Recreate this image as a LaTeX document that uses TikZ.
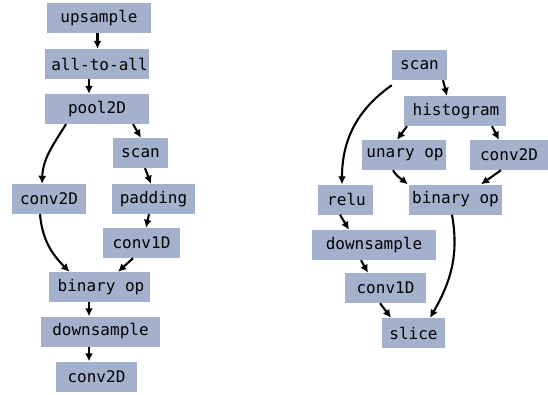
\documentclass[tikz,border=0pt]{standalone}
\usepackage{fontspec}
\setmonofont{DejaVu Sans Mono}
\usetikzlibrary{arrows.meta}
\definecolor{boxfill}{RGB}{164,177,204}
\tikzset{
  box/.style={rectangle, fill=boxfill, minimum height=30pt, inner sep=0pt,
    font=\ttfamily\fontsize{16}{18}\selectfont, text=black},
  edge/.style={line width=2.1pt, -{Latex[length=8pt,width=8pt]}}
}
\newcommand{\lft}[2]{#2\hspace{#1pt}}
\newcommand{\rgt}[2]{\hspace{#1pt}#2}
\begin{document}
\begin{tikzpicture}[x=1pt,y=-1pt]
\useasboundingbox (0,0) rectangle (548,394);
% left graph
\node[box, minimum width=104pt] (ups) at (99,18) {\lft{9}{upsample}};
\node[box, minimum width=104pt] (ata) at (97,64) {\rgt{5}{all-to-all}};
\node[box, minimum width=104pt] (pool) at (97,109) {\lft{6}{pool2D}};
\node[box, minimum width=55pt] (scanl) at (140.5,153) {\lft{4}{scan}};
\node[box, minimum width=74pt] (convl) at (49,199) {\lft{9}{conv2D}};
\node[box, minimum width=83pt] (pad) at (153.5,199) {\lft{4}{padding}};
\node[box, minimum width=77pt] (c1l) at (141.5,243) {\lft{5}{conv1D}};
\node[box, minimum width=101pt] (binl) at (99.5,287) {\rgt{3}{binary op}};
\node[box, minimum width=119pt] (dsl) at (100.5,331.5) {\lft{13}{downsample}};
\node[box, minimum width=81pt] (c2b) at (96.5,376.5) {\lft{8}{conv2D}};
% right graph
\node[box, minimum width=55pt] (scanr) at (419.5,65) {\lft{2}{scan}};
\node[box, minimum width=102pt] (hist) at (455,111) {\rgt{2}{histogram}};
\node[box, minimum width=84pt] (un) at (404,155) {\rgt{2}{unary op}};
\node[box, minimum width=78pt] (c2r) at (509,155) {\lft{9}{conv2D}};
\node[box, minimum width=55pt] (relu) at (345.5,199.5) {\rgt{2}{relu}};
\node[box, minimum width=93pt] (binr) at (455.5,199.5) {binary op};
\node[box, minimum width=124pt] (dsr) at (374,245) {\lft{14}{downsample}};
\node[box, minimum width=81pt] (c1r) at (385.5,288) {conv1D};
\node[box, minimum width=63pt] (slice) at (413.5,333) {slice};
% left edges
\draw[edge] ([xshift=-1.5pt]ups.south) -- ([xshift=0.5pt]ata.north);
\draw[edge] ([xshift=-8pt]ata.south) -- ([xshift=-8pt]pool.north);
\draw[edge] ([xshift=-31pt]pool.south) to[out=238,in=88] ([xshift=-7pt]convl.north);
\draw[edge] ([xshift=36pt]pool.south) -- ([xshift=0.5pt]scanl.north);
\draw[edge] ([xshift=4.5pt]scanl.south) -- ([xshift=-2.5pt]pad.north);
\draw[edge] ([xshift=-4.5pt]pad.south) -- ([xshift=4.5pt]c1l.north);
\draw[edge] ([xshift=-9pt]convl.south) to[out=-85,in=135] ([xshift=-30pt]binl.north);
\draw[edge] ([xshift=-8.5pt]c1l.south) -- ([xshift=18.5pt]binl.north);
\draw[edge] ([xshift=-10.5pt]binl.south) -- ([xshift=-11.5pt]dsl.north);
\draw[edge] ([xshift=-11.5pt]dsl.south) -- ([xshift=-7.5pt]c2b.north);
% right edges
\draw[edge] ([yshift=-5pt]scanr.south west) to[out=215,in=90] ([xshift=-3.5pt]relu.north);
\draw[edge] ([xshift=23.5pt]scanr.south) -- ([xshift=-8pt]hist.north);
\draw[edge] ([xshift=-48pt]hist.south) -- ([xshift=-7pt]un.north);
\draw[edge] ([xshift=37pt]hist.south) -- ([xshift=-10pt]c2r.north);
\draw[edge] ([xshift=-11pt]un.south) to[out=-60,in=140] ([xshift=-1pt]binr.north west);
\draw[edge] ([xshift=-8pt]c2r.south) -- ([xshift=25.5pt]binr.north);
\draw[edge] ([xshift=-5.5pt]relu.south) -- ([xshift=-25pt]dsr.north);
\draw[edge] ([xshift=-3.5pt]binr.south) to[out=-80,in=60] ([xshift=16.5pt]slice.north);
\draw[edge] ([xshift=-13pt]dsr.south) -- ([xshift=-17.5pt]c1r.north);
\draw[edge] ([xshift=-5.5pt]c1r.south) -- ([xshift=-22.5pt]slice.north);
\end{tikzpicture}
\end{document}
